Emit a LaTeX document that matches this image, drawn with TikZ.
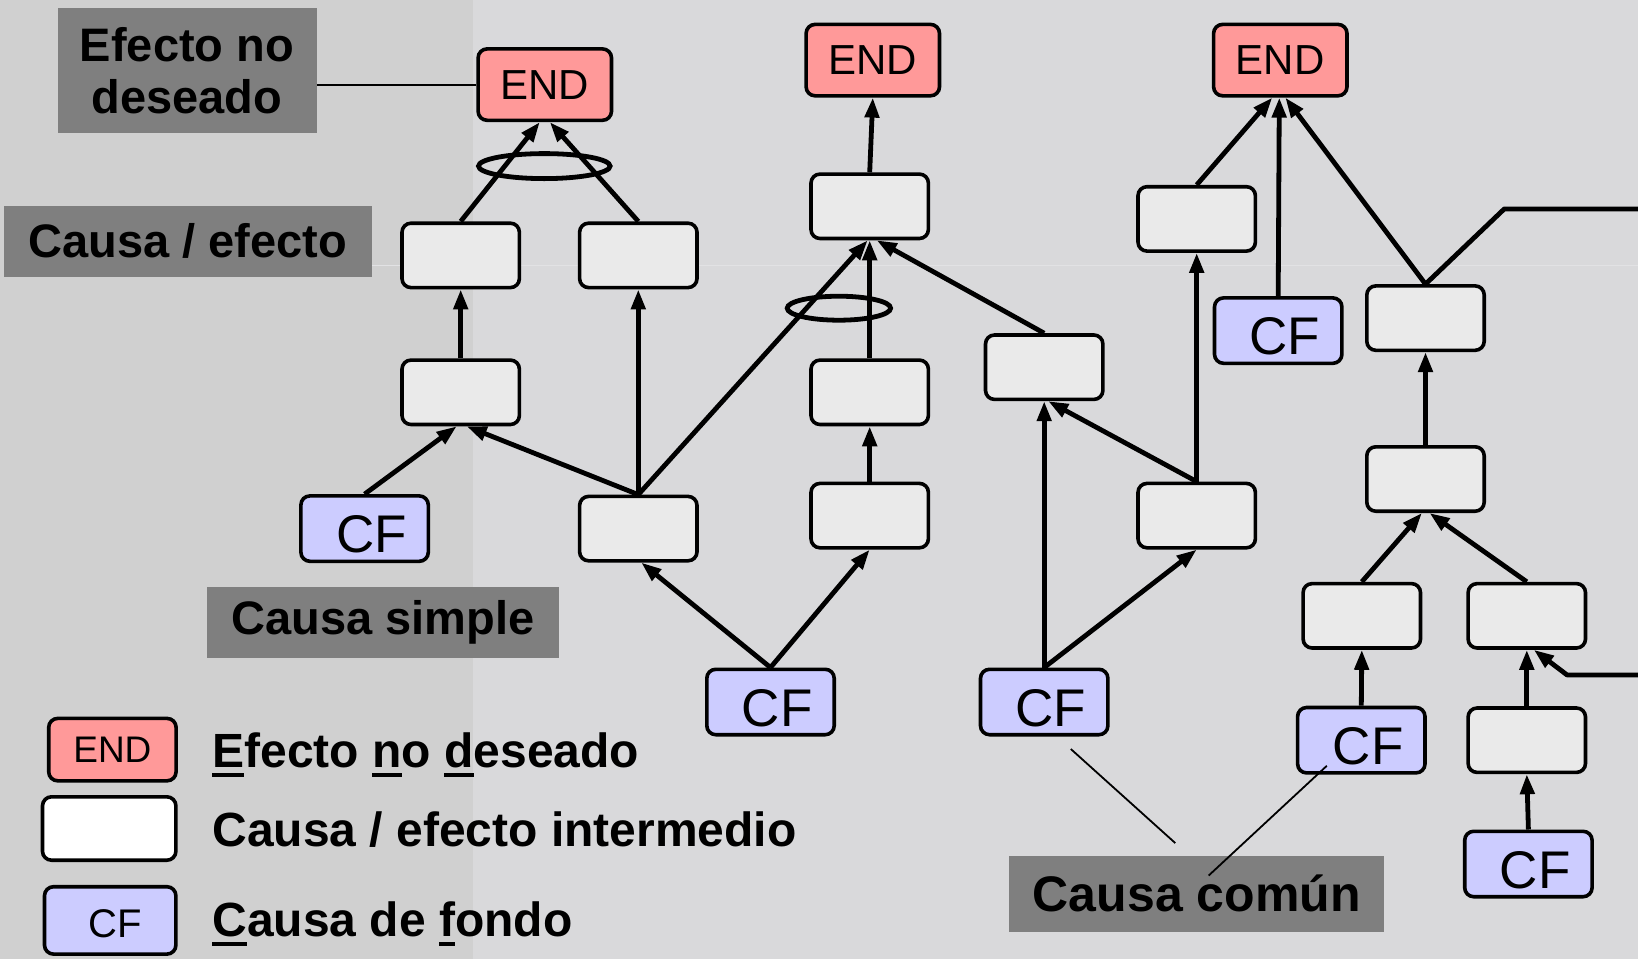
\documentclass[tikz,border=0pt]{standalone}
\usepackage{fontspec}
\setmainfont{Liberation Sans}
\usetikzlibrary{arrows.meta,shapes.geometric}
\definecolor{bgL}{HTML}{D0D0D0}
\definecolor{bgR}{HTML}{D9D9DB}
\definecolor{endc}{HTML}{FF9999}
\definecolor{cfc}{HTML}{CCCCFF}
\definecolor{boxc}{HTML}{EAEAEA}
\definecolor{labc}{HTML}{7F7F7F}
\newcommand\myul[1]{\setbox0\hbox{#1}\rlap{\rule[-5.1pt]{\wd0}{2.3pt}}#1}
\begin{document}
\begin{tikzpicture}[x=0.5pt,y=-0.5pt,
  base/.style={draw=black,line width=1.8pt,rounded corners=4.5pt,inner sep=0pt},
  endbox/.style={base,fill=endc,minimum width=66.7pt,minimum height=35.7pt,font=\fontsize{21}{24}\selectfont},
  cfbox/.style={base,fill=cfc,minimum width=63.7pt,minimum height=32.7pt,text height=24.2pt,text depth=0pt,font=\fontsize{26.5}{30}\selectfont},
  midbox/.style={base,fill=boxc,minimum width=58.7pt,minimum height=32.2pt},
  lab/.style={fill=labc,inner sep=0pt,font=\bfseries\fontsize{23.5}{26}\selectfont,align=center},
  arr/.style={line width=2.4pt,-{Triangle[length=10pt,width=7pt]}},
  ln/.style={line width=2.4pt,line join=round},
  thinln/.style={line width=0.9pt},
  legtxt/.style={anchor=base west,inner sep=0pt,font=\bfseries\fontsize{24}{27}\selectfont}
]
\useasboundingbox (0,0) rectangle (1638,959);
% background
\fill[bgR] (0,0) rectangle (1638,959);
\fill[bgL] (0,0) rectangle (473,959);
\draw[line width=0.5pt,white!25!bgR] (372,265) -- (1638,265);

% grey labels
\node[lab,minimum width=129.5pt,minimum height=62.2pt] (l1) at (187,70.5) {Efecto no\\deseado};
\node[lab,minimum width=183.9pt,minimum height=35.5pt] (l2) at (188,241.3) {Causa / efecto};
\node[lab,minimum width=176pt,minimum height=35.5pt] (l3) at (382.9,622.6) {Causa simple};
\node[lab,minimum width=187.5pt,minimum height=38.2pt,font=\bfseries\fontsize{25}{28}\selectfont] (l4) at (1196.7,893.7) {Causa común};

% END nodes
\node[endbox] (END1) at (544.8,84.6) {END};
\node[endbox] (END2) at (872.8,60.1) {END};
\node[endbox] (END3) at (1280.3,60.1) {END};

% intermediate nodes
\node[midbox] (A1) at (460.7,255.4) {};
\node[midbox] (A2) at (638.3,255.4) {};
\node[midbox] (A3) at (460.7,392.3) {};
\node[midbox] (A4) at (638.3,528.6) {};
\node[midbox] (B1) at (869.7,206.3) {};
\node[midbox] (B2) at (869.7,392.3) {};
\node[midbox] (B3) at (869.7,515.6) {};
\node[midbox] (C1) at (1044.2,367.2) {};
\node[midbox] (C2) at (1196.7,515.6) {};
\node[midbox] (D1) at (1196.7,218.9) {};
\node[midbox] (F1) at (1425.5,318.1) {};
\node[midbox] (F2) at (1425.5,479.0) {};
\node[midbox] (F3) at (1361.8,615.8) {};
\node[midbox] (F4) at (1526.8,615.8) {};
\node[midbox] (F5) at (1526.8,740.2) {};

% CF nodes
\node[cfbox] (CF1) at (364.6,528.6) {\hspace*{6.8pt}CF};
\node[cfbox] (CF2) at (770.5,702.0) {\hspace*{6.8pt}CF};
\node[cfbox] (CF3) at (1044.2,702.0) {\hspace*{6.8pt}CF};
\node[cfbox] (CF4) at (1278.2,330.6) {\hspace*{6.8pt}CF};
\node[cfbox] (CF5) at (1361.3,740.2) {\hspace*{6.8pt}CF};
\node[cfbox] (CF6) at (1528.4,864.0) {\hspace*{6.8pt}CF};

% legend
\node[endbox,minimum width=63.7pt,minimum height=31.2pt,font=\fontsize{18.5}{22}\selectfont] (LE) at (112.4,749.6) {END};
\node[base,fill=white,minimum width=66.7pt,minimum height=31.7pt] (LW) at (109.2,828.5) {};
\node[cfbox,minimum width=65.7pt,minimum height=33.7pt,text height=17pt,font=\fontsize{20}{24}\selectfont] (LC) at (110.2,920.4) {\hspace*{5.2pt}CF};
\node[legtxt] (T1) at (212,767) {\myul{E}fecto \myul{n}o \myul{d}eseado};
\node[legtxt] (T2) at (212,846) {Causa / efecto intermedio};
\node[legtxt] (T3) at (212,936) {\myul{C}ausa de \myul{f}ondo};

% annotation lines
\draw[line width=1.1pt] (END1.west) -- (END1.west -| l1.east);
\coordinate (cc1a) at (1070.8,749);
\coordinate (cc1b) at (1175.3,843.1);
\coordinate (cc2a) at (1326.8,765.8);
\coordinate (cc2b) at (1208.7,875.5);
\draw[thinln] (cc1a) -- (cc1b);
\draw[thinln] (cc2a) -- (cc2b);

% ellipses
\draw[line width=2.4pt] (544.3,166.1) ellipse [x radius=32.9pt, y radius=6.25pt];
\draw[line width=2.4pt] (838.9,308.2) ellipse [x radius=25.85pt, y radius=6pt];

% arrows: left tree
\draw[arr] (A1.north) -- ([xshift=-2.5pt]END1.south);
\draw[arr] (A2.north) -- ([xshift=2.5pt]END1.south);
\draw[arr] (A3.north) -- (A1.south);
\draw[arr] (CF1.north) -- ([xshift=-2pt]A3.south);
\draw[arr] (A4.north) -- ([xshift=3pt]A3.south);
\draw[arr] (A4.north) -- (A2.south);
\draw[arr] (A4.north) -- ([xshift=-1pt]B1.south);
\draw[arr] (B2.north) -- (B1.south);
\draw[arr] (C1.north) -- ([xshift=3.5pt]B1.south);
\draw[arr] (B1.north) -- (END2.south);
\draw[arr] (B3.north) -- (B2.south);
\draw[arr] (CF2.north) -- ([xshift=1.5pt]A4.south);
\draw[arr] (CF2.north) -- (B3.south);
\draw[arr] (CF3.north) -- (C1.south);
\draw[arr] (CF3.north) -- (C2.south);
\draw[arr] (C2.north) -- ([xshift=2pt]C1.south);
\draw[arr] (C2.north) -- (D1.south);
% right tree
\draw[arr] (D1.north) -- ([xshift=-4pt]END3.south);
\draw[arr] (CF4.north) -- ([xshift=-0.5pt]END3.south);
\draw[arr] (F1.north) -- ([xshift=2.5pt]END3.south);
\coordinate (r1b) at (1504.3,208.9);
\coordinate (r1) at (1638,208.9);
\draw[ln] (F1.north) -- (r1b) -- (r1);
\draw[arr] (F2.north) -- (F1.south);
\draw[arr] (F3.north) -- ([xshift=-1.8pt]F2.south);
\draw[arr] (F4.north) -- ([xshift=2pt]F2.south);
\draw[arr] (CF5.north) -- (F3.south);
\draw[arr] (F5.north) -- (F4.south);
\coordinate (r2) at (1638,674.9);
\coordinate (r2b) at (1567,674.9);
\draw[arr,line join=round] (r2) -- (r2b) -- ([xshift=3.5pt]F4.south);
\draw[arr] (CF6.north) -- (F5.south);
\end{tikzpicture}
\end{document}
